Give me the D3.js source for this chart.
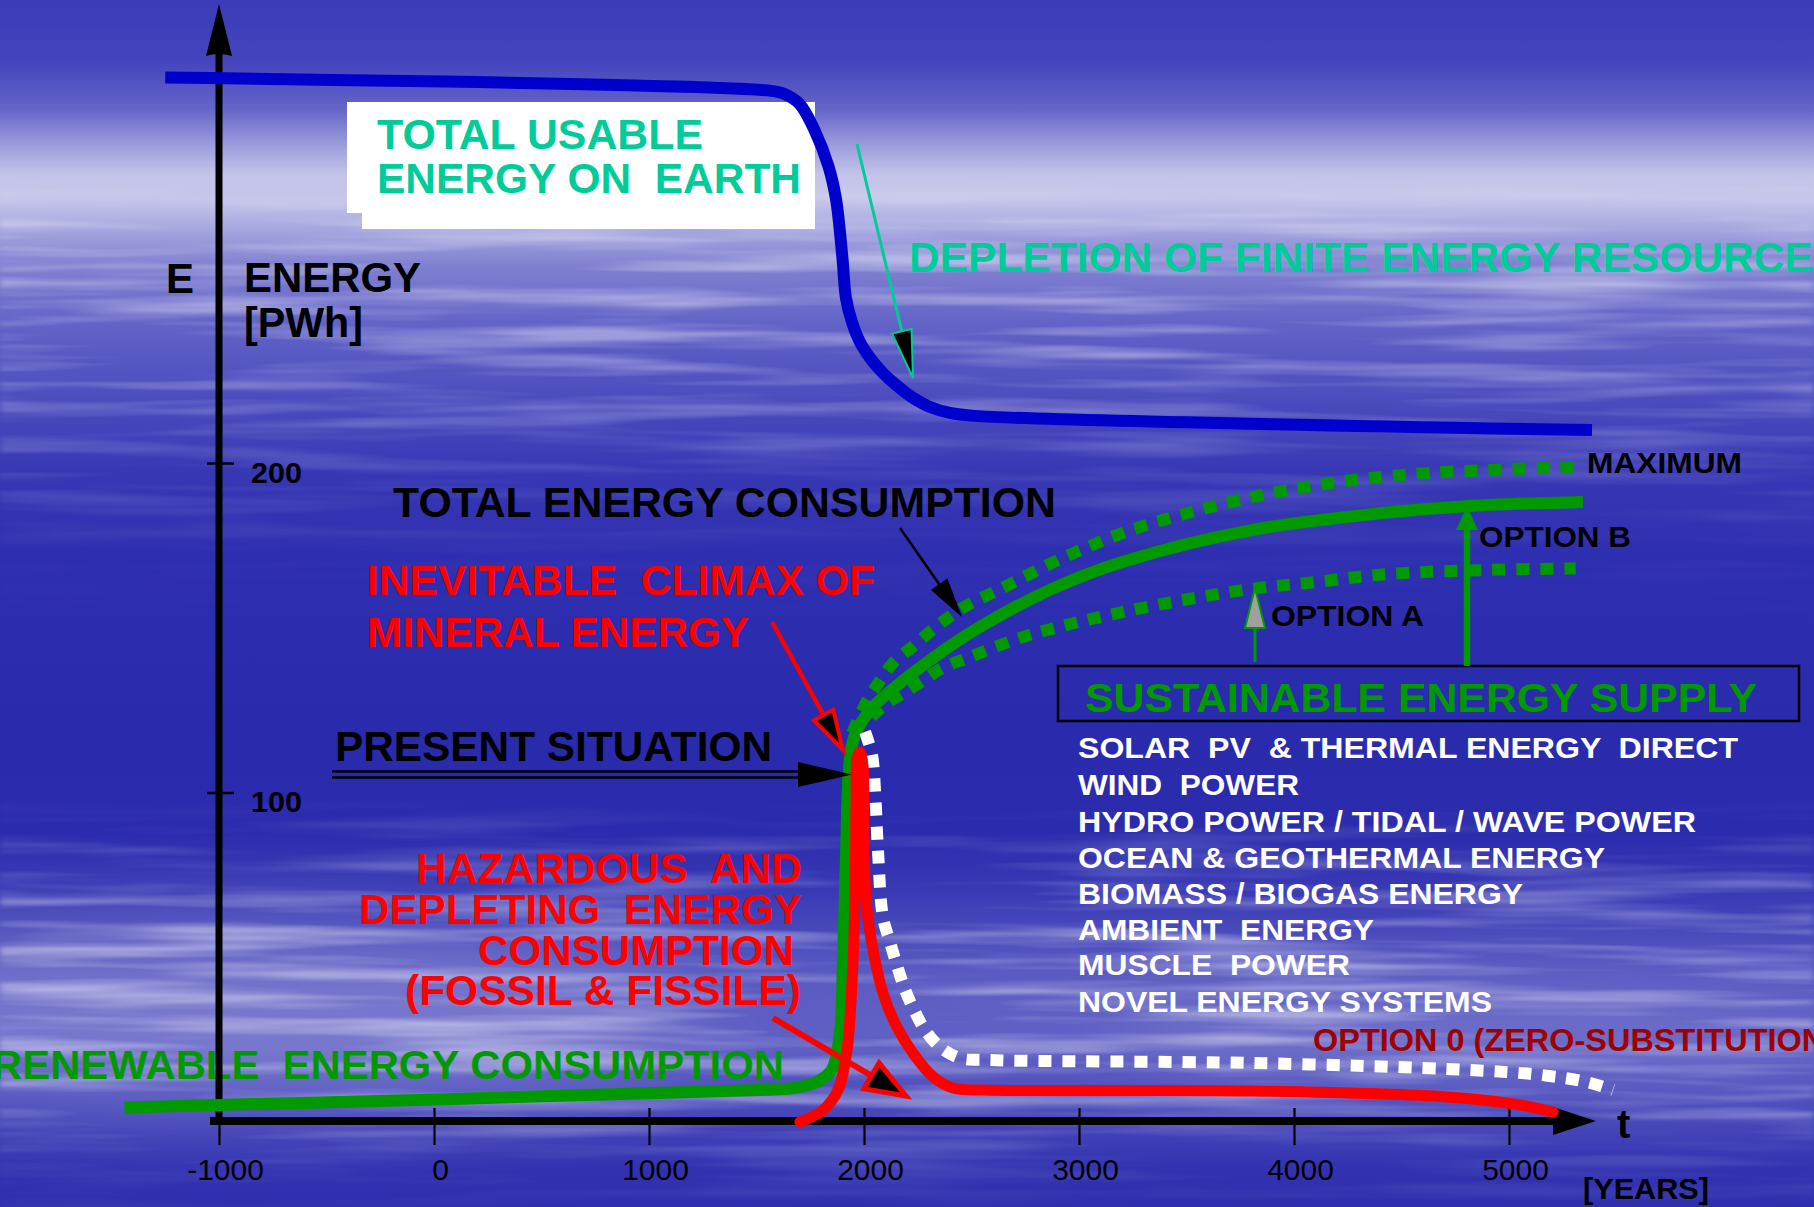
<!DOCTYPE html>
<html>
<head>
<meta charset="utf-8">
<script src="https://cdn.jsdelivr.net/npm/d3@7"></script>
<style>
  html, body { margin: 0; padding: 0; background: #2d2dae; overflow: hidden; }
  svg { display: block; }
  text { font-family: "Liberation Sans", Arial, Helvetica, sans-serif; white-space: pre; }
</style>
</head>
<body>
<svg id="chart" width="1814" height="1207"></svg>
<script>
// ---------------- data: energy E [PWh] over time t [years] ----------------
const xTicks = [-1000, 0, 1000, 2000, 3000, 4000, 5000];
const yTicks = [100, 200];

// total usable energy on earth (finite resources depleted around today)
const usableYears  = [-1250, 1560, 1630, 1700, 1770, 1835, 1870, 1900, 1916, 1944, 1981, 2028, 2084, 2149, 2223, 2307, 2400, 2516, 5386];
const usableEnergy = [317, 313, 312, 309, 301, 290, 280, 262, 250.1, 242.8, 236.7, 231.9, 227.6, 223.7, 220, 217, 215.2, 214.3, 210];

// renewable consumption, then total energy consumption (option B)
const totalYears  = [-1440, 1515, 1670, 1780, 1850, 1888, 1902, 1916, 1930, 1950, 1990, 2050, 2167, 2353, 2507, 2865, 3205, 3809, 4409, 4800, 5344];
const totalEnergy = [4.4, 9.7, 10.3, 12.1, 15.8, 27, 49, 80, 107, 116, 121.5, 126.5, 133.2, 142.3, 149, 161.5, 170, 179.7, 184.8, 186.9, 188.2];

// maximum sustainable supply
const maxYears  = [1945, 2015, 2065, 2135, 2225, 2305, 2390, 2485, 2605, 2905, 3205, 3505, 3810, 4105, 4410, 4710, 5310];
const maxEnergy = [118, 128, 133, 139.3, 144.2, 148.7, 153, 157, 160.8, 170.6, 178.8, 184.8, 189.7, 193.3, 195.8, 197.3, 198.8];

// option A
const optAYears  = [2035, 2105, 2180, 2275, 2365, 2480, 2755, 3205, 3770, 4105, 4435, 4880, 5310];
const optAEnergy = [123, 127, 130, 134, 137.8, 140.8, 147.5, 154.8, 161.5, 163.9, 166.3, 167.5, 168];

// option 0 (zero substitution)
const opt0Years  = [2005, 2037, 2051, 2065, 2088, 2121, 2153, 2191, 2233, 2284, 2353, 2447, 2586, 3809, 4805, 5144, 5363, 5484];
const opt0Energy = [118.4, 111.4, 100.8, 82.5, 62.2, 54.6, 47.6, 40.1, 34, 27.9, 22.8, 19.4, 18.8, 17.9, 15.8, 14.3, 12.1, 9.7];

// hazardous and depleting (fossil & fissile) consumption
const fossilYears  = [1702, 1809, 1879, 1921, 1944, 1958, 1963, 1968, 1981, 1995, 2000, 2014, 2042, 2088, 2153, 2228, 2321, 2414, 2563, 3809, 4712, 5051, 5205];
const fossilEnergy = [0, 3.6, 9.7, 21.9, 42.2, 67.4, 97.7, 110.5, 112.3, 108.3, 82.5, 64.3, 52.2, 39.2, 28.8, 20.9, 13.7, 10.3, 9.7, 9.4, 7.6, 5.2, 3];

// sustainable energy sources
const sources = [
  "SOLAR  PV  & THERMAL ENERGY  DIRECT",
  "WIND  POWER",
  "HYDRO POWER / TIDAL / WAVE POWER",
  "OCEAN & GEOTHERMAL ENERGY",
  "BIOMASS / BIOGAS ENERGY",
  "AMBIENT  ENERGY",
  "MUSCLE  POWER",
  "NOVEL ENERGY SYSTEMS"
];

// ---------------- setup ----------------
const W = 1814, H = 1207;
const TEAL = "#00cc99", GREEN = "#009900", RED = "#ff0000", BLUE = "#0000cc", DARKRED = "#a00000";
const svg = d3.select("#chart");
const defs = svg.append("defs");

const x = d3.scaleLinear().domain([-1000, 5000]).range([219, 1509]);
const y = d3.scaleLinear().domain([0, 200]).range([1122, 463]);
const pairs = (ts, es) => ts.map((t, i) => [t, es[i]]);
const line = d3.line().x(d => x(d[0])).y(d => y(d[1])).curve(d3.curveCatmullRom.alpha(0.5));

// ---------------- sky background ----------------
const sky = defs.append("linearGradient").attr("id", "sky")
  .attr("x1", 0).attr("y1", 0).attr("x2", 0).attr("y2", 1);
[[0, "#3b3bb9"], [0.05, "#4444bd"], [0.09, "#6464c9"], [0.12, "#9c9cdc"], [0.145, "#c4c4ea"],
 [0.165, "#c6c6eb"], [0.19, "#a6a6df"], [0.22, "#8080d1"], [0.27, "#6262c7"], [0.33, "#4c4cbe"],
 [0.39, "#3838b5"], [0.46, "#2e2eb0"], [0.60, "#2a2aad"], [0.69, "#2b2bae"], [0.74, "#3a3ab5"],
 [0.80, "#5050be"], [0.87, "#5a5ac2"], [0.925, "#4646b9"], [0.97, "#3232b1"], [1, "#2e2eae"]]
  .forEach(([o, c]) => sky.append("stop").attr("offset", o).attr("stop-color", c));
svg.append("rect").attr("width", W).attr("height", H).attr("fill", "url(#sky)");

// fine horizontal cloud streaks
const haze = defs.append("filter").attr("id", "haze")
  .attr("filterUnits", "userSpaceOnUse").attr("x", 0).attr("y", 0).attr("width", W).attr("height", H);
haze.append("feTurbulence").attr("type", "fractalNoise").attr("baseFrequency", "0.0028 0.055")
  .attr("numOctaves", 3).attr("seed", 23).attr("result", "n");
haze.append("feColorMatrix").attr("in", "n").attr("type", "matrix")
  .attr("values", "0 0 0 0 1  0 0 0 0 1  0 0 0 0 1  2.6 0 0 0 -1.12").attr("result", "w");
haze.append("feGaussianBlur").attr("stdDeviation", "3 0.6");

const hm = defs.append("linearGradient").attr("id", "hazeMaskGrad")
  .attr("x1", 0).attr("y1", 0).attr("x2", 0).attr("y2", 1);
[[0, "#000"], [0.15, "#000"], [0.19, "#999"], [0.24, "#bbb"], [0.32, "#888"], [0.38, "#444"],
 [0.45, "#111"], [0.52, "#000"], [0.66, "#000"], [0.71, "#555"], [0.78, "#bbb"], [0.90, "#aaa"],
 [0.96, "#333"], [1, "#111"]]
  .forEach(([o, c]) => hm.append("stop").attr("offset", o).attr("stop-color", c));
defs.append("mask").attr("id", "hazeMask").attr("maskUnits", "userSpaceOnUse")
  .attr("x", 0).attr("y", 0).attr("width", W).attr("height", H)
  .append("rect").attr("width", W).attr("height", H).attr("fill", "url(#hazeMaskGrad)");
svg.append("rect").attr("width", W).attr("height", H).attr("fill", "#fff")
  .attr("filter", "url(#haze)").attr("mask", "url(#hazeMask)").attr("opacity", 0.6);

// soft light patches near the bottom
const glow = defs.append("filter").attr("id", "glow").attr("x", "-50%").attr("y", "-50%").attr("width", "200%").attr("height", "200%");
glow.append("feGaussianBlur").attr("stdDeviation", 45);
[[260, 1010, 460, 90, 0.20], [1500, 1030, 380, 60, 0.14], [1000, 1000, 300, 50, 0.08]]
  .forEach(([cx, cy, rx, ry, o]) => svg.append("ellipse").attr("cx", cx).attr("cy", cy)
    .attr("rx", rx).attr("ry", ry).attr("fill", "#fff").attr("opacity", o).attr("filter", "url(#glow)"));

// ---------------- label box ----------------
svg.append("path").attr("d", "M347,102 H815 V229 H362 V213 H347 Z").attr("fill", "#fff");

// ---------------- text labels ----------------
const labels = [
  { t: "TOTAL USABLE", x: 377, y: 149, s: 43, c: TEAL, w: 326 },
  { t: "ENERGY ON  EARTH", x: 377, y: 193, s: 43, c: TEAL, w: 424 },
  { t: "DEPLETION OF FINITE ENERGY RESOURCES", x: 909, y: 272, s: 42.5, c: TEAL },
  { t: "E", x: 166, y: 293, s: 42, c: "#000" },
  { t: "ENERGY", x: 244, y: 292, s: 42, c: "#000", w: 177 },
  { t: "[PWh]", x: 244, y: 337, s: 42, c: "#000", w: 119 },
  { t: "TOTAL ENERGY CONSUMPTION", x: 393, y: 517, s: 42, c: "#000", w: 663 },
  { t: "INEVITABLE  CLIMAX OF", x: 367, y: 595, s: 42, c: RED, w: 508 },
  { t: "MINERAL ENERGY", x: 367, y: 647, s: 42, c: RED, w: 382 },
  { t: "PRESENT SITUATION", x: 335, y: 761, s: 42, c: "#000", w: 437 },
  { t: "HAZARDOUS  AND", x: 416, y: 883, s: 42, c: RED, w: 386 },
  { t: "DEPLETING  ENERGY", x: 359, y: 924, s: 42, c: RED, w: 443 },
  { t: "CONSUMPTION", x: 478, y: 965, s: 42, c: RED, w: 316 },
  { t: "(FOSSIL & FISSILE)", x: 405, y: 1005, s: 42, c: RED, w: 396 },
  { t: "RENEWABLE  ENERGY CONSUMPTION", x: -8, y: 1079, s: 41, c: GREEN, w: 792 },
  { t: "MAXIMUM", x: 1587, y: 473, s: 30, c: "#000", w: 155 },
  { t: "OPTION B", x: 1479, y: 547, s: 30, c: "#000", w: 152 },
  { t: "OPTION A", x: 1271, y: 626, s: 30, c: "#000", w: 153 },
  { t: "SUSTAINABLE ENERGY SUPPLY", x: 1085, y: 712, s: 40, c: GREEN, w: 672 },
  { t: "OPTION 0 (ZERO-SUBSTITUTION)", x: 1313, y: 1051, s: 31, c: DARKRED, w: 523 },
  { t: "t", x: 1617, y: 1138, s: 40, c: "#000" },
  { t: "[YEARS]", x: 1583, y: 1199, s: 30, c: "#000", w: 126 }
];
const sourceWidths = [660, 221, 618, 527, 445, 296, 272, 414];
const sourceBaselines = [758, 795, 832, 868, 904, 940, 975, 1012];
sources.forEach((t, i) => labels.push({ t, x: 1078, y: sourceBaselines[i], s: 30, c: "#fff", w: sourceWidths[i] }));

const gLabels = svg.append("g");
labels.forEach(l => {
  const el = gLabels.append("text").attr("x", l.x).attr("y", l.y).text(l.t)
    .style("font-size", l.s + "px").style("font-weight", "bold").attr("fill", l.c);
  if (l.w) el.attr("textLength", l.w).attr("lengthAdjust", "spacingAndGlyphs");
});

// sustainable supply frame
svg.append("rect").attr("x", 1058).attr("y", 666).attr("width", 741).attr("height", 55)
  .attr("fill", "none").attr("stroke", "#000").attr("stroke-width", 2.5);

// ---------------- axes ----------------
const gx = svg.append("g").attr("transform", `translate(0,${y(0) - 1})`)
  .call(d3.axisBottom(x).tickValues(xTicks).tickSize(24).tickSizeOuter(0).tickFormat(d => String(d)));
gx.select(".domain").remove();
gx.selectAll(".tick line").attr("y1", -13).attr("stroke", "#000").attr("stroke-width", 2.2);
gx.selectAll(".tick text").attr("y", 59).attr("dy", 0).attr("dx", 6).attr("fill", "#000")
  .style("font-size", "30px").style("font-weight", "normal");
svg.append("line").attr("x1", 210).attr("x2", 1556).attr("y1", y(0) - 1).attr("y2", y(0) - 1)
  .attr("stroke", "#000").attr("stroke-width", 8);
svg.append("polygon").attr("points", `1553,${y(0) - 15} 1553,${y(0) + 13} 1596,${y(0) - 1}`).attr("fill", "#000");

const gy = svg.append("g").attr("transform", `translate(${x(-1000)},0)`)
  .call(d3.axisLeft(y).tickValues(yTicks).tickSize(12).tickSizeOuter(0).tickFormat(d => String(d)));
gy.select(".domain").remove();
gy.selectAll(".tick line").attr("x1", 15).attr("stroke", "#000").attr("stroke-width", 2.5);
gy.selectAll(".tick text").attr("x", 32).attr("y", 19).attr("dy", 0).attr("text-anchor", "start")
  .attr("fill", "#000").attr("textLength", 51).attr("lengthAdjust", "spacingAndGlyphs")
  .style("font-size", "29px").style("font-weight", "bold");
svg.append("line").attr("x1", x(-1000)).attr("x2", x(-1000)).attr("y1", 50).attr("y2", y(0) - 1)
  .attr("stroke", "#000").attr("stroke-width", 7);
svg.append("path").attr("d", `M${x(-1000)},4 L${x(-1000) + 13},56 Q${x(-1000)},52 ${x(-1000) - 13},56 Z`).attr("fill", "#000");

// ---------------- curves ----------------
const curves = [
  { d: pairs(usableYears, usableEnergy), c: BLUE, w: 12 },
  { d: pairs(maxYears, maxEnergy), c: GREEN, w: 12, dash: "13 11" },
  { d: pairs(optAYears, optAEnergy), c: GREEN, w: 12, dash: "13 11" },
  { d: pairs(totalYears, totalEnergy), c: GREEN, w: 12 },
  { d: pairs(opt0Years, opt0Energy), c: "#fff", w: 12, dash: "13 11" },
  { d: pairs(fossilYears, fossilEnergy), c: RED, w: 11, cap: "round" }
];
curves.forEach(k => {
  svg.append("path").attr("d", line(k.d)).attr("fill", "none")
    .attr("stroke", k.c).attr("stroke-width", k.w)
    .attr("stroke-linecap", k.cap || "butt").attr("stroke-linejoin", "round")
    .attr("stroke-dasharray", k.dash || null);
});

// ---------------- annotation arrows ----------------
function arrow(from, to, o) {
  const dx = to[0] - from[0], dy = to[1] - from[1], L = Math.hypot(dx, dy);
  const ux = dx / L, uy = dy / L, nx = -uy, ny = ux;
  const bx = to[0] - ux * o.len, by = to[1] - uy * o.len;
  svg.append("line").attr("x1", from[0]).attr("y1", from[1]).attr("x2", bx + ux * 2).attr("y2", by + uy * 2)
    .attr("stroke", o.line).attr("stroke-width", o.lw);
  svg.append("polygon")
    .attr("points", [[to[0], to[1]], [bx + nx * o.hw, by + ny * o.hw], [bx - nx * o.hw, by - ny * o.hw]].map(p => p.join(",")).join(" "))
    .attr("fill", o.fill).attr("stroke", o.stroke || "none").attr("stroke-width", o.sw || 0)
    .attr("stroke-linejoin", "miter");
}
arrow([857, 144], [913, 378], { line: TEAL, lw: 3, len: 48, hw: 10, fill: "#000", stroke: TEAL, sw: 2 });
arrow([900, 528], [962, 617], { line: "#000", lw: 2.5, len: 40, hw: 10, fill: "#000" });
arrow([772, 622], [843, 750], { line: RED, lw: 4.5, len: 40, hw: 11, fill: "#000", stroke: RED, sw: 4 });
arrow([773, 1018], [906, 1096], { line: RED, lw: 6, len: 40, hw: 15, fill: "#000", stroke: RED, sw: 5 });
arrow([1255, 662], [1255, 588], { line: GREEN, lw: 3, len: 40, hw: 10, fill: "#a0a0a0", stroke: GREEN, sw: 2 });
arrow([1467, 666], [1467, 506], { line: GREEN, lw: 6.5, len: 24, hw: 11, fill: GREEN });

// present situation: double-shafted arrow
[771.5, 777.5].forEach(yy => svg.append("line").attr("x1", 332).attr("x2", 800).attr("y1", yy).attr("y2", yy)
  .attr("stroke", "#000").attr("stroke-width", 2.5));
svg.append("polygon").attr("points", "798,762 798,787 852,774.5").attr("fill", "#000");
</script>
</body>
</html>
